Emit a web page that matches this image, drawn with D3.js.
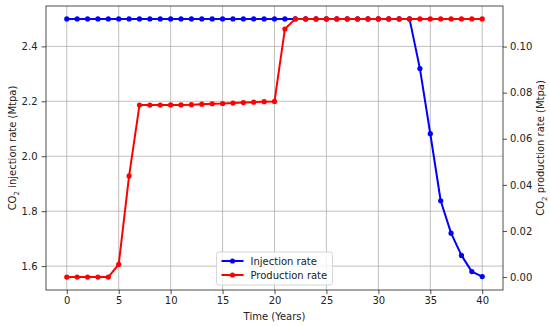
<!DOCTYPE html>
<html>
<head>
<meta charset="utf-8">
<script src="https://cdn.jsdelivr.net/npm/d3@7"></script>
<style>
  body { margin: 0; background: #fff; }
  text { font-family: "DejaVu Sans", sans-serif; fill: #222; }
</style>
</head>
<body>
<div id="chart"></div>
<script>
var years = d3.range(0, 41);

// CO2 injection rate (Mtpa), left axis
var injection = [
    2.5, 2.5, 2.5, 2.5, 2.5, 2.5, 2.5, 2.5, 2.5, 2.5,
    2.5, 2.5, 2.5, 2.5, 2.5, 2.5, 2.5, 2.5, 2.5, 2.5,
    2.5, 2.5, 2.5, 2.5, 2.5, 2.5, 2.5, 2.5, 2.5, 2.5,
    2.5, 2.5, 2.5, 2.5, 2.319, 2.082, 1.838, 1.720, 1.639, 1.580,
    1.562
];

// CO2 production rate (Mtpa), right axis
var production = [
    0, 0, 0, 0, 0, 0.0055, 0.0439, 0.0746, 0.0746, 0.0746,
    0.0747, 0.0747, 0.0748, 0.0750, 0.0752, 0.0753, 0.0755, 0.0757, 0.0759, 0.0761,
    0.0762, 0.1076, 0.112, 0.112, 0.112, 0.112, 0.112, 0.112, 0.112, 0.112,
    0.112, 0.112, 0.112, 0.112, 0.112, 0.112, 0.112, 0.112, 0.112, 0.112,
    0.112
];

var xTicks = [0, 5, 10, 15, 20, 25, 30, 35, 40];
var leftTicks = [1.6, 1.8, 2.0, 2.2, 2.4];
var rightTicks = [0, 0.02, 0.04, 0.06, 0.08, 0.10];
var seriesNames = ["Injection rate", "Production rate"];
var seriesColors = ["blue", "red"];

var width = 550, height = 326;
// "top" is taken by window.top, so plot edges get their own names
var plotL = 46, plotR = 503, plotT = 6, plotB = 290;

var svg = d3.select("#chart").append("svg")
    .attr("width", width)
    .attr("height", height);

var x = d3.scaleLinear().domain([-2, 42]).range([plotL, plotR]);
var y1 = d3.scaleLinear().domain([1.513, 2.547]).range([plotB, plotT]);
var y2 = d3.scaleLinear().domain([-0.0056, 0.1176]).range([plotB, plotT]);

// grid
var grid = svg.append("g").attr("stroke", "#b0b0b0").attr("stroke-width", 0.8);
grid.selectAll(".gx").data(xTicks).enter().append("line")
    .attr("x1", function(d) { return x(d); })
    .attr("x2", function(d) { return x(d); })
    .attr("y1", plotT).attr("y2", plotB);
grid.selectAll(".gy").data(leftTicks).enter().append("line")
    .attr("y1", function(d) { return y1(d); })
    .attr("y2", function(d) { return y1(d); })
    .attr("x1", plotL).attr("x2", plotR);

// axes
var fmt1 = d3.format(".1f"), fmt2 = d3.format(".2f");

var xAxis = svg.append("g")
    .attr("transform", "translate(0," + plotB + ")")
    .call(d3.axisBottom(x).tickValues(xTicks).tickSize(4).tickPadding(3));
var lAxis = svg.append("g")
    .attr("transform", "translate(" + plotL + ",0)")
    .call(d3.axisLeft(y1).tickValues(leftTicks).tickFormat(fmt1).tickSize(4.5).tickPadding(4));
var rAxis = svg.append("g")
    .attr("transform", "translate(" + plotR + ",0)")
    .call(d3.axisRight(y2).tickValues(rightTicks).tickFormat(fmt2).tickSize(4).tickPadding(3));

[xAxis, lAxis, rAxis].forEach(function(a) {
    a.select(".domain").remove();
    a.selectAll("text").attr("font-size", 10).attr("fill", "#222")
        .attr("font-family", "DejaVu Sans, sans-serif");
    a.selectAll("line").attr("stroke", "#222").attr("stroke-width", 0.8);
});

svg.append("rect")
    .attr("x", plotL).attr("y", plotT)
    .attr("width", plotR - plotL).attr("height", plotB - plotT)
    .attr("fill", "none").attr("stroke", "#222").attr("stroke-width", 0.8);

// series
function drawSeries(values, yScale, color) {
    var line = d3.line()
        .x(function(d, i) { return x(years[i]); })
        .y(function(d) { return yScale(d); });
    svg.append("path")
        .datum(values)
        .attr("d", line)
        .attr("fill", "none")
        .attr("stroke", color)
        .attr("stroke-width", 2)
        .attr("stroke-linejoin", "round");
    svg.append("g").selectAll("circle")
        .data(values)
        .enter()
        .append("circle")
        .attr("cx", function(d, i) { return x(years[i]); })
        .attr("cy", function(d) { return yScale(d); })
        .attr("r", 2.6)
        .attr("fill", color);
}
drawSeries(injection, y1, seriesColors[0]);
drawSeries(production, y2, seriesColors[1]);

// axis titles
svg.append("text")
    .attr("x", (plotL + plotR) / 2).attr("y", 320)
    .attr("text-anchor", "middle").attr("font-size", 10)
    .text("Time (Years)");

var ly = svg.append("text")
    .attr("transform", "translate(16," + ((plotT + plotB) / 2) + ") rotate(-90)")
    .attr("text-anchor", "middle").attr("font-size", 10);
ly.append("tspan").text("CO");
ly.append("tspan").attr("font-size", 7).attr("dy", 2.5).text("2");
ly.append("tspan").attr("dy", -2.5).text(" injection rate (Mtpa)");

var ry = svg.append("text")
    .attr("transform", "translate(544," + ((plotT + plotB) / 2) + ") rotate(-90)")
    .attr("text-anchor", "middle").attr("font-size", 10);
ry.append("tspan").text("CO");
ry.append("tspan").attr("font-size", 7).attr("dy", 2.5).text("2");
ry.append("tspan").attr("dy", -2.5).text(" production rate (Mtpa)");

// legend
var lgW = 116, lgH = 33;
var lgX = (plotL + plotR) / 2 - lgW / 2, lgY = 252;
var legend = svg.append("g").attr("transform", "translate(" + lgX + "," + lgY + ")");
legend.append("rect")
    .attr("width", lgW).attr("height", lgH).attr("rx", 2.5)
    .attr("fill", "white").attr("fill-opacity", 0.8)
    .attr("stroke", "#cccccc").attr("stroke-width", 0.8);
var items = legend.selectAll(".item").data(seriesNames).enter().append("g")
    .attr("transform", function(d, i) { return "translate(5," + (9 + i * 14) + ")"; });
items.append("line")
    .attr("x1", 0).attr("x2", 22)
    .attr("stroke", function(d, i) { return seriesColors[i]; })
    .attr("stroke-width", 2);
items.append("circle")
    .attr("cx", 11).attr("r", 2.6)
    .attr("fill", function(d, i) { return seriesColors[i]; });
items.append("text")
    .attr("x", 29).attr("dy", "0.35em").attr("font-size", 10)
    .text(function(d) { return d; });
</script>
</body>
</html>
